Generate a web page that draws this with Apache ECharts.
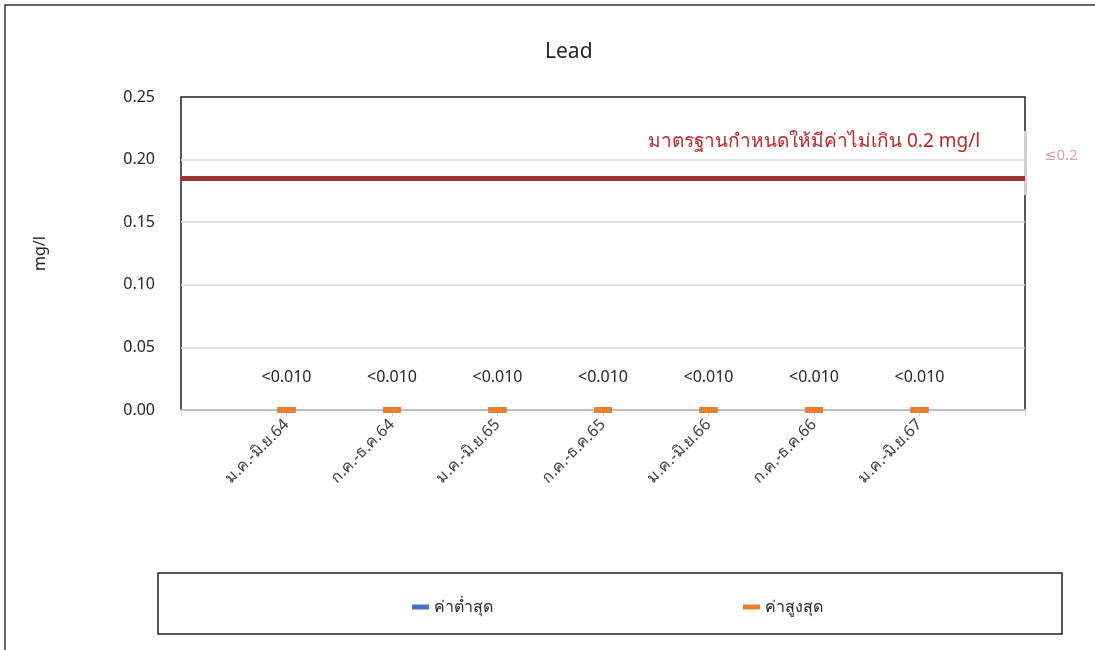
<!DOCTYPE html>
<html>
<head>
<meta charset="utf-8">
<script src="https://cdn.jsdelivr.net/npm/echarts@6/dist/echarts.min.js"></script>
<style>
  html, body { margin: 0; padding: 0; background: #fff; }
  #main { width: 1095px; height: 650px; }
</style>
</head>
<body>
<div id="main"></div>
<script>
// ข้อมูลกราฟ
var periods = ['', 'ม.ค.-มิ.ย.64', 'ก.ค.-ธ.ค.64', 'ม.ค.-มิ.ย.65', 'ก.ค.-ธ.ค.65', 'ม.ค.-มิ.ย.66', 'ก.ค.-ธ.ค.66', 'ม.ค.-มิ.ย.67', ''];
var minValues = [null, 0, 0, 0, 0, 0, 0, 0, null];
var maxValues = [null, 0, 0, 0, 0, 0, 0, 0, null];
var maxLabels = ['', '<0.010', '<0.010', '<0.010', '<0.010', '<0.010', '<0.010', '<0.010', ''];
var limitValue = 0.185;   // เส้นมาตรฐาน (ตามที่วาดในภาพ)
var limitText = 'มาตรฐานกำหนดให้มีค่าไม่เกิน 0.2 mg/l';

var font = "'Noto Sans', 'DejaVu Sans', sans-serif";

var myChart = echarts.init(document.getElementById('main'));

var option = {
    backgroundColor: '#fff',
    animation: false,
    title: {
        text: 'Lead',
        left: 540,
        top: 37,
        textStyle: { fontSize: 21, fontWeight: 'normal', color: '#262626', fontFamily: font }
    },
    legend: {
        data: ['ค่าต่ำสุด', 'ค่าสูงสุด'],
        left: 407,
        top: 594,
        itemWidth: 17,
        itemHeight: 5,
        itemGap: 250,
        icon: 'rect',
        textStyle: { fontSize: 16, color: '#262626', fontFamily: font }
    },
    grid: {
        left: 181,
        right: 70,
        top: 97,
        bottom: 240,
        show: true,
        borderColor: '#222',
        borderWidth: 1.5
    },
    xAxis: {
        type: 'category',
        data: periods,
        boundaryGap: false,
        axisLine: { lineStyle: { color: '#bfbfbf', width: 2 } },
        axisTick: { show: true, length: 6, lineStyle: { color: '#d9d9d9' } },
        axisLabel: {
            rotate: 45,
            margin: 12,
            interval: 0,
            fontSize: 16,
            color: '#404040',
            fontFamily: font
        }
    },
    yAxis: {
        type: 'value',
        min: 0,
        max: 0.25,
        interval: 0.05,
        name: 'mg/l',
        nameLocation: 'middle',
        nameGap: 133,
        nameRotate: 90,
        nameTextStyle: { fontSize: 16, color: '#262626', fontFamily: font },
        axisLine: { show: false },
        axisTick: { show: false },
        axisLabel: {
            margin: 26,
            fontSize: 16,
            color: '#262626',
            fontFamily: font,
            formatter: function (v) { return v.toFixed(2); }
        },
        splitLine: { showMaxLine: false, lineStyle: { color: '#d9d9d9', width: 1.5 } }
    },
    series: [
        {
            name: 'ค่าต่ำสุด',
            type: 'line',
            data: minValues,
            color: '#4472c4',
            symbol: 'rect',
            symbolSize: [18, 6],
            lineStyle: { width: 0 },
            z: 3
        },
        {
            name: 'ค่าสูงสุด',
            type: 'line',
            data: maxValues,
            color: '#ed7d31',
            symbol: 'rect',
            symbolSize: [18, 6],
            lineStyle: { width: 0 },
            z: 4,
            label: {
                show: true,
                position: 'top',
                distance: 22,
                fontSize: 16,
                color: '#262626',
                fontFamily: font,
                formatter: function (p) { return maxLabels[p.dataIndex]; }
            },
            markLine: {
                silent: true,
                symbol: 'none',
                precision: 3,
                label: { show: false },
                lineStyle: { color: '#9e3535', width: 5, type: 'solid' },
                data: [{ yAxis: limitValue }]
            }
        }
    ],
    graphic: [
        // กรอบนอก
        {
            type: 'rect',
            shape: { x: 5, y: 5, width: 1200, height: 700 },
            style: { fill: 'none', stroke: '#333', lineWidth: 1.5 },
            silent: true
        },
        // กรอบคำอธิบาย
        {
            type: 'rect',
            shape: { x: 158, y: 573, width: 904, height: 61 },
            style: { fill: 'none', stroke: '#222', lineWidth: 1.5 },
            silent: true
        },
        {
            type: 'text',
            x: 648,
            y: 132,
            style: { text: limitText, fontSize: 19, fill: '#c0272d', fontFamily: font }
        },
        {
            type: 'rect',
            shape: { x: 1024, y: 131, width: 3, height: 64 },
            style: { fill: '#d0d0d0' },
            silent: true
        },
        {
            type: 'text',
            x: 1044,
            y: 148,
            style: { text: '≤0.2', fontSize: 15, fill: '#d9a0b8', fontFamily: font }
        }
    ]
};

myChart.setOption(option);
</script>
</body>
</html>
